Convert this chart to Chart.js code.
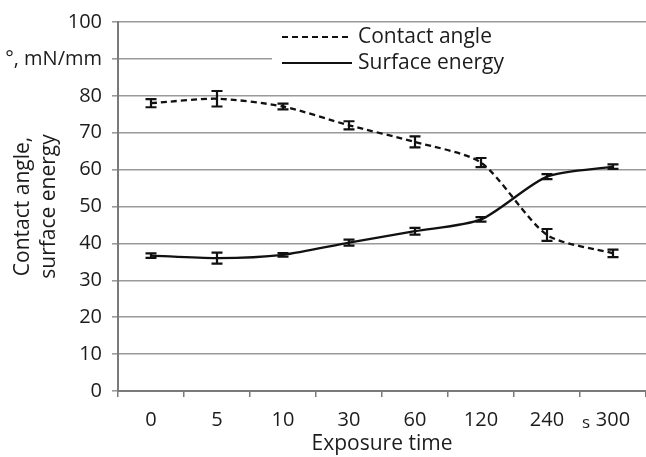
<!DOCTYPE html>
<html>
<head>
<meta charset="utf-8">
<script src="https://cdn.jsdelivr.net/npm/chart.js@4/dist/chart.umd.min.js"></script>
<style>
  body { margin: 0; background: #fff; overflow: hidden; }
  canvas { display: block; }
</style>
</head>
<body>
<canvas id="chart" width="646" height="457"></canvas>
<script>
// exposure time categories (s)
const times = ['0', '5', '10', '30', '60', '120', '240', '300'];

// contact angle, degrees
const contactAngle = [78.0, 79.2, 77.1, 72.0, 67.5, 61.9, 42.3, 37.3];
const contactAngleErr = [1.1, 2.1, 0.8, 1.1, 1.5, 1.25, 1.6, 1.0];

// surface energy, mN/mm
const surfaceEnergy = [36.7, 36.0, 36.9, 40.2, 43.3, 46.5, 58.1, 60.8];
const surfaceEnergyErr = [0.6, 1.5, 0.5, 0.8, 0.9, 0.6, 0.7, 0.6];

// y tick labels, the 90 slot carries the unit
const yTickLabels = ['0', '10', '20', '30', '40', '50', '60', '70', '80', '°, mN/mm', '100'];

const FONT = '"Open Sans", "Noto Sans", sans-serif';
const TEXT = '#1c1c1c';
const GRID = '#9a9a9a';
const AXIS = '#7a7a7a';

// error bars drawn from each dataset's err array
const errorBars = {
  id: 'errorBars',
  afterDatasetsDraw(chart) {
    const ctx = chart.ctx;
    const y = chart.scales.y;
    ctx.save();
    ctx.strokeStyle = '#111';
    ctx.lineWidth = 2.2;
    ctx.setLineDash([]);
    chart.data.datasets.forEach((ds, i) => {
      chart.getDatasetMeta(i).data.forEach((pt, j) => {
        const v = ds.data[j], e = ds.err[j];
        const top = y.getPixelForValue(v + e);
        const bot = y.getPixelForValue(v - e);
        ctx.beginPath();
        ctx.moveTo(pt.x, top); ctx.lineTo(pt.x, bot);
        ctx.moveTo(pt.x - 5.5, top); ctx.lineTo(pt.x + 5.5, top);
        ctx.moveTo(pt.x - 5.5, bot); ctx.lineTo(pt.x + 5.5, bot);
        ctx.stroke();
      });
    });
    ctx.restore();
  }
};

// legend box sitting inside the plot, over the 90 grid line
const insideLegend = {
  id: 'insideLegend',
  beforeDatasetsDraw(chart) {
    const ctx = chart.ctx;
    ctx.save();
    ctx.fillStyle = '#fff';
    ctx.fillRect(272, 24, chart.width - 272, 56);
    ctx.font = '21px ' + FONT;
    ctx.textBaseline = 'middle';
    ctx.fillStyle = TEXT;
    chart.data.datasets.forEach((ds, i) => {
      const ly = 37 + i * 26;
      ctx.strokeStyle = ds.borderColor;
      ctx.lineWidth = 2.2;
      ctx.setLineDash(ds.borderDash || []);
      ctx.beginPath();
      ctx.moveTo(282, ly);
      ctx.lineTo(352, ly);
      ctx.stroke();
      ctx.fillText(ds.label, 358, ly);
    });
    ctx.restore();
  },
  afterDraw(chart) {
    // unit mark between the last two time labels
    const ctx = chart.ctx;
    const x = chart.scales.x;
    ctx.save();
    ctx.font = '17px ' + FONT;
    ctx.fillStyle = TEXT;
    ctx.textAlign = 'center';
    ctx.textBaseline = 'middle';
    ctx.fillText('s', x.getPixelForValue(6.5) + 6, 423);
    ctx.restore();
  }
};

new Chart(document.getElementById('chart'), {
  type: 'line',
  data: {
    labels: times,
    datasets: [
      {
        label: 'Contact angle',
        data: contactAngle,
        err: contactAngleErr,
        borderColor: '#111',
        borderWidth: 2.3,
        borderDash: [6, 4],
        pointRadius: 0,
        tension: 0.25,
        fill: false
      },
      {
        label: 'Surface energy',
        data: surfaceEnergy,
        err: surfaceEnergyErr,
        borderColor: '#111',
        borderWidth: 2.3,
        pointRadius: 0,
        tension: 0.25,
        fill: false
      }
    ]
  },
  options: {
    responsive: false,
    animation: false,
    layout: { padding: { top: 18, right: 0, left: 0, bottom: 0 } },
    plugins: {
      legend: { display: false },
      tooltip: { enabled: false }
    },
    scales: {
      x: {
        offset: true,
        grid: { offset: true, drawOnChartArea: false, drawTicks: true, tickLength: 6, color: AXIS, lineWidth: 1.5 },
        border: { color: AXIS, width: 2 },
        ticks: { color: TEXT, font: { family: FONT, size: 20 }, padding: 11, maxRotation: 0, autoSkip: false },
        title: { display: true, text: 'Exposure time', color: TEXT, font: { family: FONT, size: 21 }, padding: { top: 0, bottom: 0 } },
        afterFit(scale) { scale.height = 66; }
      },
      y: {
        min: 0,
        max: 100,
        ticks: {
          stepSize: 10,
          color: TEXT,
          font: { family: FONT, size: 20 },
          padding: 10,
          callback: (v) => yTickLabels[Math.round(v / 10)]
        },
        grid: { color: GRID, lineWidth: 1.6, tickLength: 6, drawTicks: true },
        border: { color: AXIS, width: 2 },
        title: {
          display: true,
          text: ['Contact angle,', 'surface energy'],
          color: TEXT,
          font: { family: FONT, size: 21, lineHeight: 1.25 },
          padding: { top: 10, bottom: 0 }
        },
        afterFit(scale) { scale.width = 118; }
      }
    }
  },
  plugins: [errorBars, insideLegend]
});
</script>
</body>
</html>
